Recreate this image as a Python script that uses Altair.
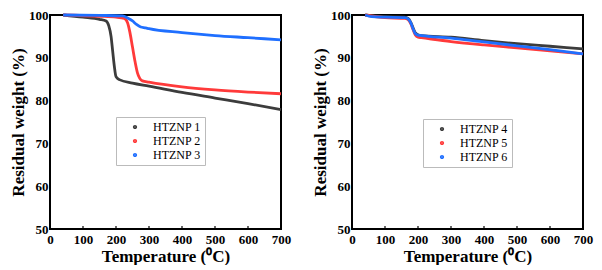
import altair as alt
import pandas as pd

# Left panel data (temperature in °C, residual weight in %)
t1 = [40, 100, 150, 170, 178, 185, 190, 195, 200, 210, 250, 300, 400, 500, 600, 700]
w1 = [100, 99.5, 99.0, 98.6, 97.5, 95.0, 91.5, 88.0, 85.6, 84.9, 84.1, 83.4, 81.9, 80.6, 79.3, 77.9]
t2 = [40, 150, 200, 225, 235, 242, 250, 258, 265, 272, 280, 300, 400, 500, 600, 700]
w2 = [100, 99.7, 99.5, 99.2, 98.2, 96.0, 92.5, 89.0, 86.5, 85.2, 84.6, 84.3, 83.2, 82.5, 82.0, 81.6]
t3 = [40, 150, 220, 235, 250, 262, 275, 290, 300, 400, 500, 600, 700]
w3 = [100, 99.9, 99.8, 99.3, 98.6, 97.8, 97.2, 97.0, 96.8, 95.9, 95.2, 94.7, 94.2]

# Right panel data
t4 = [40, 100, 160, 170, 178, 185, 192, 200, 210, 300, 400, 500, 600, 700]
w4 = [100, 99.6, 99.5, 99.2, 98.3, 97.0, 95.8, 95.4, 95.2, 94.8, 94.0, 93.3, 92.7, 92.1]
t5 = [40, 100, 160, 170, 178, 185, 192, 200, 210, 300, 400, 500, 600, 700]
w5 = [100, 99.4, 99.2, 98.9, 98.0, 96.6, 95.3, 94.8, 94.7, 93.8, 93.0, 92.3, 91.6, 90.9]
t6 = [40, 60, 100, 160, 170, 178, 185, 192, 200, 210, 300, 400, 500, 600, 700]
w6 = [100, 99.6, 99.5, 99.4, 99.1, 98.2, 96.8, 95.6, 95.3, 95.2, 94.6, 93.7, 92.8, 91.9, 90.9]

names_left = ["HTZNP 1", "HTZNP 2", "HTZNP 3"]
names_right = ["HTZNP 4", "HTZNP 5", "HTZNP 6"]
colors = ["#3c3c3c", "#ff3a3a", "#1f6fff"]
x_ticks = [0, 100, 200, 300, 400, 500, 600, 700]
y_ticks = [50, 60, 70, 80, 90, 100]

def frame(ts, ws, names):
    rows = []
    for t, w, n in zip(ts, ws, names):
        for a, b in zip(t, w):
            rows.append({"T": a, "W": b, "S": n})
    return pd.DataFrame(rows)

FONT = "Liberation Serif"
W, H = 231, 214

x_axis = alt.Axis(values=x_ticks, ticks=False, labelPadding=4, labelOverlap=False,
                  labelBound=False, labelFlush=False, titlePadding=2, tickCount=8)

def panel(df, names, lx, ly):
    xs = alt.Scale(domain=[0, 700], nice=False)
    ys = alt.Scale(domain=[50, 100], nice=False)
    lines = alt.Chart(df).mark_line(strokeWidth=2.8, interpolate="monotone").encode(
        x=alt.X("T:Q", scale=xs, title="Temperature (⁰C)", axis=x_axis),
        y=alt.Y("W:Q", scale=ys, title="Residual weight (%)",
                axis=alt.Axis(values=y_ticks, ticks=False, labelPadding=2,
                              labelOverlap=False, titlePadding=1)),
        color=alt.Color("S:N", scale=alt.Scale(domain=names, range=colors),
                        legend=alt.Legend(title=None, orient="none", legendX=lx, legendY=ly,
                                          symbolType="circle", symbolSize=3, symbolStrokeWidth=2.5,
                                          labelFont=FONT, labelFontSize=12, labelColor="black",
                                          strokeColor="#bbbbbb", padding=4,
                                          rowPadding=2, symbolOffset=9, labelOffset=12)),
    )
    ticks = alt.Chart(pd.DataFrame({"T": x_ticks[1:-1]})).mark_rule(color="black", strokeWidth=1.2).encode(
        x=alt.X("T:Q", scale=xs, title="Temperature (⁰C)", axis=x_axis),
        y=alt.value(H),
        y2=alt.value(H - 3),
    )
    return alt.layer(lines, ticks).properties(width=W, height=H)

left = panel(frame([t1, t2, t3], [w1, w2, w3], names_left), names_left, 66, 102)
right = panel(frame([t4, t5, t6], [w4, w5, w6], names_right), names_right, 71, 104)

chart = alt.hconcat(left, right, spacing=18).resolve_scale(color="independent").configure(
    font=FONT,
    padding={"left": 0, "top": 0, "right": 0, "bottom": 0},
).configure_view(
    stroke="black", strokeWidth=2,
).configure_axis(
    grid=False, domain=False,
    labelFont=FONT, labelFontSize=13, labelFontWeight="bold", labelColor="black",
    titleFont=FONT, titleFontSize=17, titleFontWeight="bold", titleColor="black",
)

chart.save("out.html", embed_options={"renderer": "svg", "actions": False})
